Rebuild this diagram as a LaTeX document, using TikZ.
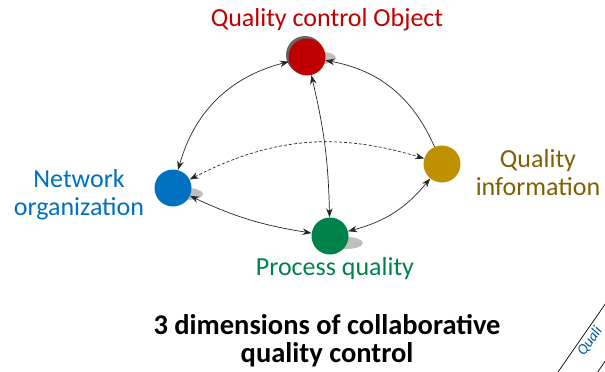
\documentclass[tikz,border=0pt]{standalone}
\usepackage{fontspec}
\setmainfont{Carlito}
\usepackage{tikz}
\usetikzlibrary{arrows.meta}

\definecolor{objred}{HTML}{C00000}
\definecolor{netblue}{HTML}{0070C0}
\definecolor{infogold}{HTML}{BF9000}
\definecolor{infotext}{HTML}{7F6000}
\definecolor{procgreen}{HTML}{00834A}

\begin{document}
\begin{tikzpicture}[x=1pt, y=-1pt,
    >={Stealth[length=9pt, width=6.5pt]},
    dot/.style={circle, minimum size=37pt, inner sep=0pt},
    shade/.style={fill=black!25},
    link/.style={line width=0.7pt, black!85},
    lbl/.style={font=\fontsize{26}{28}\selectfont, inner sep=0pt, align=center}]
            \useasboundingbox (0,0) rectangle (605,372);

            % shadows behind the dots
            \fill[shade] (322,58) ellipse[x radius=14, y radius=6];
            \fill[black!60] (305,55) circle[radius=19];
            \fill[shade] (187,194) ellipse[x radius=16, y radius=6];
            \fill[shade] (346,243) ellipse[x radius=17, y radius=6];

            \node[dot, fill=objred] (obj) at (307,57) {};
            \node[dot, fill=netblue] (net) at (173,188) {};
            \node[dot, fill=procgreen] (proc) at (330,236) {};
            \node[dot, fill=infogold] (info) at (442,164) {};

            \node[lbl, text=objred, anchor=base] (objlbl) at (327,26) {Quality control Object};
            \node[lbl, text=netblue] (netlbl) at (79,195) {Network\\organization};
            \node[lbl, text=infotext] (infolbl) at (538,173) {Quality\\information};
            \node[lbl, text=procgreen, anchor=base] (proclbl) at (335,275) {Process quality};
            \node[lbl, font=\bfseries\fontsize{28.5}{28}\selectfont] (title) at (327,341) {3 dimensions of collaborative\\quality control};

            \draw[link, <->] (net) to[bend left=30] (obj);
            \draw[link, ->] (info) to[bend right=28] (obj);
            \draw[link, <->] (obj) to[bend left=6] (proc);
            \draw[link, <->] (net) to[bend right=8] (proc);
            \draw[link, <->] (proc) to[bend right=18] (info);
            \draw[link, <->, dash pattern=on 3pt off 2pt] (net) to[bend left=22] (info);

            % corner of a rotated stamp
            \begin{scope}
                \clip (0,0) rectangle (605,372);
                \draw[line width=0.7pt] (558,372) -- (608,300);
                \draw[line width=0.7pt] (597,373) -- (608,357);
                \node[rotate=55, anchor=base west, text=netblue!80!black, font=\itshape\fontsize{15}{15}\rmfamily\selectfont, inner sep=0pt] (stamp) at (584,357) {Quali};
            \end{scope}
        \end{tikzpicture}
\end{document}
